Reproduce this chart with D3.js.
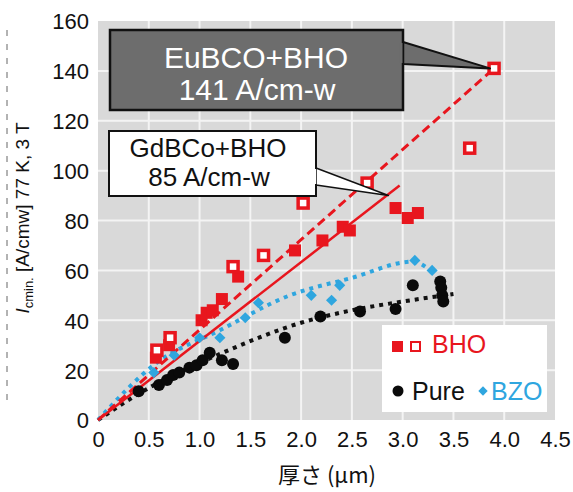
<!DOCTYPE html>
<html>
<head>
<meta charset="utf-8">
<script src="https://cdn.jsdelivr.net/npm/d3@7/dist/d3.min.js"></script>
<style>
  body { margin: 0; background: #fff; }
  svg { display: block; }
</style>
</head>
<body>
<svg width="573" height="492"></svg>
<script>
// Ic(min) at 77 K, 3 T against film thickness

// EuBCO+BHO (open squares)
var euThick = [0.58, 0.71, 1.33, 1.63, 2.02, 2.65, 3.66, 3.9];
var euIc    = [28, 33, 61.5, 66, 87, 95, 109, 141];

// GdBCO+BHO (filled squares)
var gdThick = [0.57, 0.7, 1.02, 1.07, 1.13, 1.22, 1.38, 1.94, 2.21, 2.41, 2.48, 2.93, 3.05, 3.15];
var gdIc    = [25, 30, 40, 43, 44, 48.5, 57.5, 68, 72, 77.5, 76, 85, 81, 83];

// BZO (diamonds)
var bzoThick = [0.55, 0.75, 1.0, 1.2, 1.45, 1.58, 2.1, 2.3, 2.38, 3.12, 3.29];
var bzoIc    = [19, 26, 33, 33, 41, 47, 50, 48, 54, 64, 60];

// Pure (circles)
var pureThick = [0.4, 0.6, 0.68, 0.74, 0.8, 0.9, 0.97, 1.03, 1.1, 1.22, 1.33, 1.84, 2.19, 2.58, 2.93, 3.1, 3.37, 3.38, 3.39, 3.4];
var pureIc    = [11.5, 14, 16, 18, 19, 21, 22, 24, 27, 24, 22.5, 33, 41.5, 43.5, 44.5, 54, 55.5, 53, 50, 47.5];

// trend lines
var gdFitThick = [0, 2.97];
var gdFitIc    = [0, 94];
var bzoFitThick = [0, 0.58, 1.2, 1.89, 2.5, 3.1, 3.3];
var bzoFitIc    = [0, 23, 36, 50, 57, 63.5, 59];
var pureFitThick = [0, 0.42, 1.23, 2.0, 2.5, 3.0, 3.5];
var pureFitIc    = [0, 11, 27, 39, 44, 47.5, 50.5];

var xTicks = [0, 0.5, 1.0, 1.5, 2.0, 2.5, 3.0, 3.5, 4.0, 4.5];
var yTicks = [0, 20, 40, 60, 80, 100, 120, 140, 160];

var RED = "#e8161e", BLUE = "#2fa6df", FONT = "Liberation Sans, Arial, sans-serif";

var svg = d3.select("svg");

var x = d3.scaleLinear().domain([0, 4.5]).range([98, 555]);
var y = d3.scaleLinear().domain([0, 160]).range([420, 21]);

function pts(xs, ys) {
    return xs.map(function (v, i) { return [v, ys[i]]; });
}

// dashed edge on the far left
svg.append("line")
    .attr("x1", 7).attr("x2", 7).attr("y1", 30).attr("y2", 400)
    .attr("stroke", "#666").attr("stroke-width", 1)
    .attr("stroke-dasharray", "6 8");

// plot background + grid
svg.append("rect")
    .attr("x", x(0)).attr("y", y(160))
    .attr("width", x(4.5) - x(0)).attr("height", y(0) - y(160))
    .attr("fill", "#d9d9d9");

var grid = svg.append("g").attr("stroke", "#f4f4f4").attr("stroke-width", 2);
grid.selectAll(".gx").data(xTicks.slice(1, -1)).enter().append("line")
    .attr("x1", function (d) { return x(d); }).attr("x2", function (d) { return x(d); })
    .attr("y1", y(160)).attr("y2", y(0));
grid.selectAll(".gy").data(yTicks.slice(1, -1)).enter().append("line")
    .attr("x1", x(0)).attr("x2", x(4.5))
    .attr("y1", function (d) { return y(d); }).attr("y2", function (d) { return y(d); });

// axes (labels only)
var xAxis = svg.append("g")
    .attr("transform", "translate(0," + (y(0) + 8) + ")")
    .call(d3.axisBottom(x).tickValues(xTicks).tickSize(0)
        .tickFormat(function (d) { return d === 0 ? "0" : d3.format(".1f")(d); }));
var yAxis = svg.append("g")
    .attr("transform", "translate(" + (x(0) - 6) + ",0)")
    .call(d3.axisLeft(y).tickValues(yTicks).tickSize(0));
[xAxis, yAxis].forEach(function (a) {
    a.select(".domain").remove();
    a.selectAll("text").attr("font-family", FONT).attr("font-size", 22).attr("fill", "#111");
});
yAxis.selectAll("text").attr("dy", "0.36em");

// axis titles
svg.append("text")
    .attr("x", 327).attr("y", 483)
    .attr("text-anchor", "middle")
    .attr("font-family", "Noto Sans CJK JP, sans-serif")
    .attr("font-size", 22).attr("fill", "#111")
    .text("厚さ (µm)");

var yt = svg.append("text")
    .attr("transform", "translate(29,218) rotate(-90)")
    .attr("text-anchor", "middle")
    .attr("font-family", FONT).attr("font-size", 19).attr("fill", "#111");
yt.append("tspan").attr("font-style", "italic").text("I");
yt.append("tspan").attr("font-size", 13).attr("dy", 4).text("cmin.");
yt.append("tspan").attr("dy", -4).text(" [A/cmw]  77 K, 3 T");

// trend lines
var line = d3.line().x(function (d) { return x(d[0]); }).y(function (d) { return y(d[1]); });
var smooth = d3.line().curve(d3.curveMonotoneX)
    .x(function (d) { return x(d[0]); }).y(function (d) { return y(d[1]); });

svg.append("path").datum(pts(pureFitThick, pureFitIc)).attr("d", smooth)
    .attr("fill", "none").attr("stroke", "#111").attr("stroke-width", 4)
    .attr("stroke-dasharray", "4 5");
svg.append("path").datum(pts(bzoFitThick, bzoFitIc)).attr("d", smooth)
    .attr("fill", "none").attr("stroke", BLUE).attr("stroke-width", 4)
    .attr("stroke-dasharray", "4 5");
svg.append("path").datum(pts(gdFitThick, gdFitIc)).attr("d", line)
    .attr("fill", "none").attr("stroke", RED).attr("stroke-width", 2.5);
svg.append("path").datum([[0, 0], [euThick[euThick.length - 1], euIc[euIc.length - 1]]]).attr("d", line)
    .attr("fill", "none").attr("stroke", RED).attr("stroke-width", 3)
    .attr("stroke-dasharray", "9 5");

// markers
svg.append("g").selectAll("circle").data(pts(pureThick, pureIc)).enter().append("circle")
    .attr("cx", function (d) { return x(d[0]); }).attr("cy", function (d) { return y(d[1]); })
    .attr("r", 6).attr("fill", "#0a0a0a");

svg.append("g").selectAll("path").data(pts(bzoThick, bzoIc)).enter().append("path")
    .attr("d", d3.symbol().type(d3.symbolSquare).size(62))
    .attr("transform", function (d) { return "translate(" + x(d[0]) + "," + y(d[1]) + ") rotate(45)"; })
    .attr("fill", BLUE);

svg.append("g").selectAll("rect").data(pts(gdThick, gdIc)).enter().append("rect")
    .attr("x", function (d) { return x(d[0]) - 6; }).attr("y", function (d) { return y(d[1]) - 6; })
    .attr("width", 12).attr("height", 12).attr("fill", RED);

svg.append("g").selectAll("rect").data(pts(euThick, euIc)).enter().append("rect")
    .attr("x", function (d) { return x(d[0]) - 5; }).attr("y", function (d) { return y(d[1]) - 5; })
    .attr("width", 10).attr("height", 10)
    .attr("fill", "#fff").attr("stroke", RED).attr("stroke-width", 3.5);

// callout: EuBCO+BHO
var euTip = [x(euThick[euThick.length - 1]) - 4, y(euIc[euIc.length - 1])];
svg.append("path")
    .attr("d", "M403,42L" + euTip[0] + "," + euTip[1] + "L403,64Z")
    .attr("fill", "#6d6d6d").attr("stroke", "#111").attr("stroke-width", 2).attr("stroke-linejoin", "round");
svg.append("rect")
    .attr("x", 110).attr("y", 30).attr("width", 293).attr("height", 80)
    .attr("fill", "#6d6d6d").attr("stroke", "#111").attr("stroke-width", 2.5);
svg.append("path")
    .attr("d", "M401,43L401,63").attr("stroke", "#6d6d6d").attr("stroke-width", 3);
svg.append("text").attr("x", 256).attr("y", 68).attr("text-anchor", "middle")
    .attr("font-family", FONT).attr("font-size", 30).attr("fill", "#fff").text("EuBCO+BHO");
svg.append("text").attr("x", 257).attr("y", 100).attr("text-anchor", "middle")
    .attr("font-family", FONT).attr("font-size", 30).attr("fill", "#fff").text("141 A/cm-w");

// callout: GdBCo+BHO
svg.append("path")
    .attr("d", "M316,168L" + x(2.86) + "," + y(gdIc[11] + 5) + "L316,185Z")
    .attr("fill", "#fff").attr("stroke", "#111").attr("stroke-width", 1.5).attr("stroke-linejoin", "round");
svg.append("rect")
    .attr("x", 109).attr("y", 131).attr("width", 207).attr("height", 65)
    .attr("fill", "#fff").attr("stroke", "#111").attr("stroke-width", 2);
svg.append("path")
    .attr("d", "M315,169L315,184").attr("stroke", "#fff").attr("stroke-width", 2.5);
svg.append("text").attr("x", 208).attr("y", 157).attr("text-anchor", "middle")
    .attr("font-family", FONT).attr("font-size", 26).attr("fill", "#111").text("GdBCo+BHO");
svg.append("text").attr("x", 209).attr("y", 186).attr("text-anchor", "middle")
    .attr("font-family", FONT).attr("font-size", 26).attr("fill", "#111").text("85 A/cm-w");

// legend
var lg = svg.append("g");
lg.append("rect").attr("x", 382).attr("y", 325).attr("width", 165).attr("height", 87).attr("fill", "#fff");
lg.append("rect").attr("x", 392).attr("y", 341).attr("width", 11).attr("height", 11).attr("fill", RED);
lg.append("rect").attr("x", 411).attr("y", 342).attr("width", 9).attr("height", 9)
    .attr("fill", "#fff").attr("stroke", RED).attr("stroke-width", 2);
lg.append("text").attr("x", 432).attr("y", 353)
    .attr("font-family", FONT).attr("font-size", 25).attr("fill", RED).text("BHO");
lg.append("circle").attr("cx", 398).attr("cy", 391).attr("r", 5.5).attr("fill", "#0a0a0a");
lg.append("text").attr("x", 412).attr("y", 400)
    .attr("font-family", FONT).attr("font-size", 25).attr("fill", "#111").text("Pure");
lg.append("path")
    .attr("d", d3.symbol().type(d3.symbolSquare).size(44))
    .attr("transform", "translate(483,391) rotate(45)").attr("fill", BLUE);
lg.append("text").attr("x", 491).attr("y", 400)
    .attr("font-family", FONT).attr("font-size", 25).attr("fill", BLUE).text("BZO");
</script>
</body>
</html>
